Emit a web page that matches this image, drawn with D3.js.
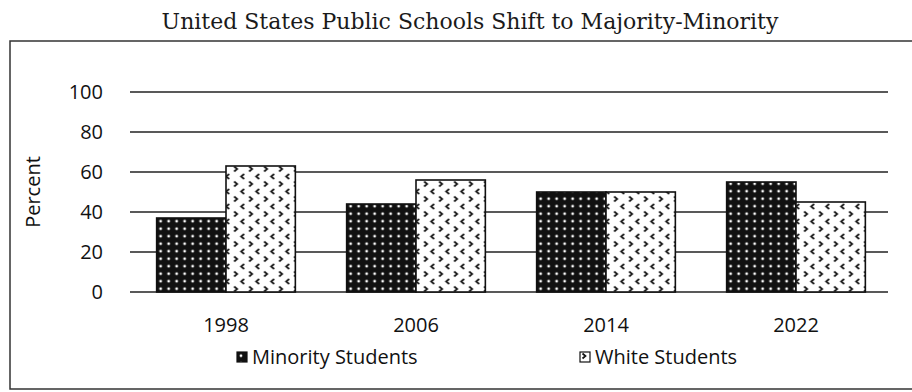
<!DOCTYPE html>
<html>
<head>
<meta charset="utf-8">
<script src="https://cdn.jsdelivr.net/npm/d3@7.9.0/dist/d3.min.js"></script>
<style>
  body { margin: 0; background: #fff; }
  svg { display: block; }
</style>
</head>
<body>
<svg id="chart" width="912" height="392"></svg>
<script>
// chart data
const years = ['1998', '2006', '2014', '2022'];
const minority = [37, 44, 50, 55];
const white = [63, 56, 50, 45];
const seriesNames = ['Minority Students', 'White Students'];
const yTicks = [0, 20, 40, 60, 80, 100];

const svg = d3.select('#chart');
const labelFont = '"Open Sans", sans-serif';

// fill patterns
const defs = svg.append('defs');

const dots = defs.append('pattern')
    .attr('id', 'dots')
    .attr('patternUnits', 'userSpaceOnUse')
    .attr('width', 8).attr('height', 7.5);
dots.append('rect').attr('width', 8).attr('height', 7.5).attr('fill', '#111');
dots.append('circle').attr('cx', 4).attr('cy', 3.75).attr('r', 1.4).attr('fill', '#fff');

const chev = defs.append('pattern')
    .attr('id', 'chevrons')
    .attr('patternUnits', 'userSpaceOnUse')
    .attr('width', 15).attr('height', 15);
chev.append('rect').attr('width', 15).attr('height', 15).attr('fill', '#fff');
chev.append('path')
    .attr('d', 'M2.5,1.5 L5.5,4 L2.5,6.5 M12.5,9 L9.5,11.5 L12.5,14')
    .attr('fill', 'none').attr('stroke', '#111').attr('stroke-width', 1.7);

const fills = ['url(#dots)', 'url(#chevrons)'];

// outer frame
svg.append('rect')
    .attr('x', 10).attr('y', 41)
    .attr('width', 910).attr('height', 348)
    .attr('fill', 'none').attr('stroke', '#333').attr('stroke-width', 1.5);

// title
svg.append('text')
    .attr('x', 470).attr('y', 29)
    .attr('text-anchor', 'middle')
    .attr('font-family', '"DejaVu Serif", serif')
    .attr('font-size', 22)
    .attr('fill', '#1a1a1a')
    .text('United States Public Schools Shift to Majority-Minority');

// scales
const x = d3.scaleBand().domain(years).range([131, 891]).paddingInner(0.27).paddingOuter(0.135);
const xs = d3.scaleBand().domain(seriesNames).range([0, x.bandwidth()]);
const y = d3.scaleLinear().domain([0, 100]).range([292, 92]);

// gridlines
svg.append('g')
    .selectAll('line')
    .data(yTicks)
    .join('line')
    .attr('x1', 130).attr('x2', 888)
    .attr('y1', d => y(d)).attr('y2', d => y(d))
    .attr('stroke', '#222').attr('stroke-width', 1.6);

// y tick labels
svg.append('g')
    .selectAll('text')
    .data(yTicks)
    .join('text')
    .attr('x', 103)
    .attr('y', d => y(d))
    .attr('dy', '0.35em')
    .attr('text-anchor', 'end')
    .attr('font-family', labelFont)
    .attr('font-size', 20)
    .attr('fill', '#111')
    .text(d => d);

// y axis title
svg.append('text')
    .attr('transform', 'translate(40,192) rotate(-90)')
    .attr('text-anchor', 'middle')
    .attr('font-family', labelFont)
    .attr('font-size', 20)
    .attr('fill', '#111')
    .text('Percent');

// bars
const rows = years.map((yr, i) => ({ year: yr, values: [minority[i], white[i]] }));

const groups = svg.append('g')
    .selectAll('g')
    .data(rows)
    .join('g')
    .attr('transform', d => `translate(${x(d.year)},0)`);

groups.selectAll('rect')
    .data(d => d.values.map((v, k) => ({ key: seriesNames[k], value: v, k })))
    .join('rect')
    .attr('x', d => xs(d.key))
    .attr('y', d => y(d.value))
    .attr('width', xs.bandwidth())
    .attr('height', d => y(0) - y(d.value))
    .attr('fill', d => fills[d.k])
    .attr('stroke', '#111')
    .attr('stroke-width', 1.6);

// x labels
svg.append('g')
    .selectAll('text')
    .data(years)
    .join('text')
    .attr('x', d => x(d) + x.bandwidth() / 2)
    .attr('y', 332)
    .attr('text-anchor', 'middle')
    .attr('font-family', labelFont)
    .attr('font-size', 20)
    .attr('fill', '#111')
    .text(d => d);

// legend
const legendX = [237, 580];
const legend = svg.append('g')
    .selectAll('g')
    .data(seriesNames)
    .join('g')
    .attr('transform', (d, i) => `translate(${legendX[i]},352)`);

legend.append('rect')
    .attr('x', 0).attr('y', 0)
    .attr('width', 10).attr('height', 10)
    .attr('fill', (d, i) => fills[i])
    .attr('stroke', '#111').attr('stroke-width', 1.2);

legend.append('text')
    .attr('x', 15).attr('y', 12)
    .attr('font-family', labelFont)
    .attr('font-size', 20)
    .attr('fill', '#111')
    .text(d => d);
</script>
</body>
</html>
